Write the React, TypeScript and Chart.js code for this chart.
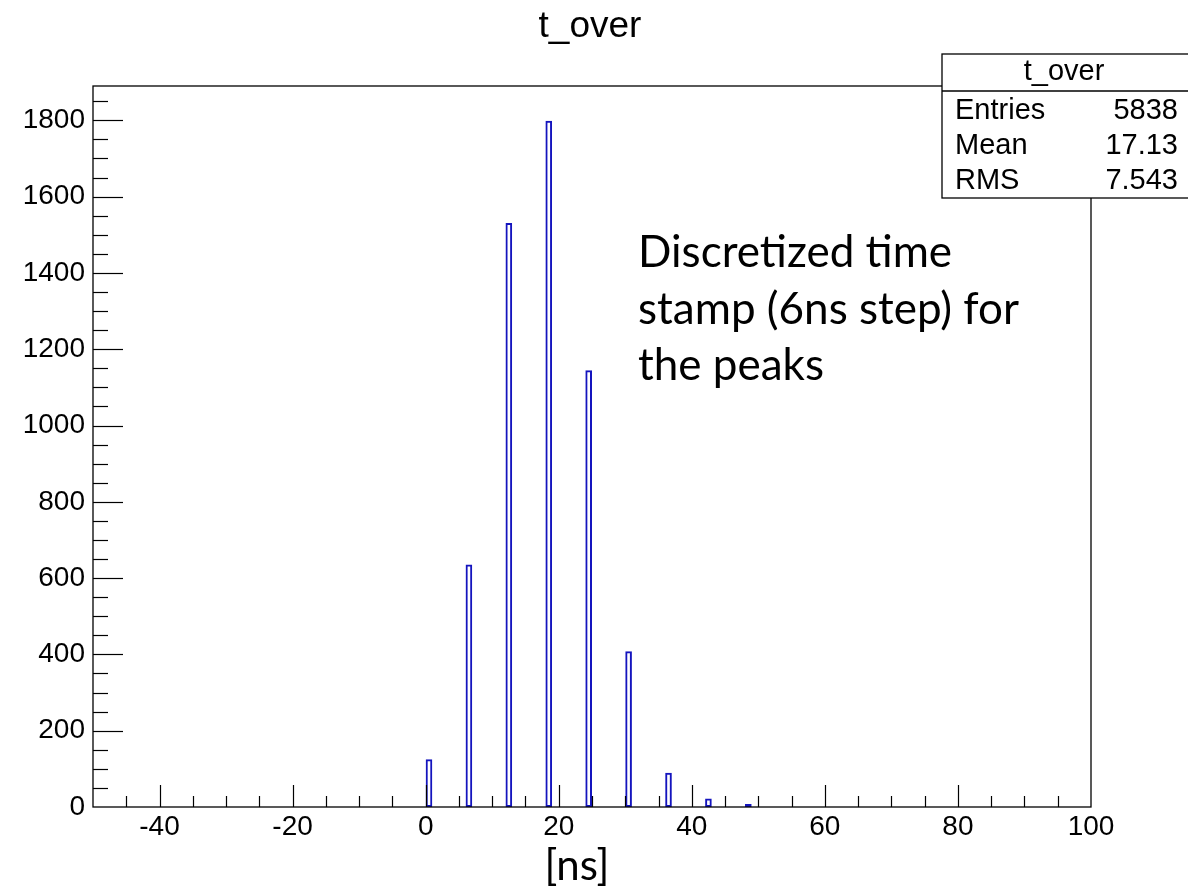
import React, { useEffect, useRef } from 'react';
import { Chart, registerables } from 'chart.js';

Chart.register(...registerables);

const histTitle = 't_over';
const binCenters = [0.5, 6.5, 12.5, 18.5, 24.5, 30.5, 36.5, 42.5, 48.5];
const binCounts = [125, 636, 1531, 1799, 1145, 408, 90, 22, 8];
const xRange = [-50, 100];
const yRange = [0, 1890];
const xMajorTicks = [-40, -20, 0, 20, 40, 60, 80, 100];
const yMajorTicks = [0, 200, 400, 600, 800, 1000, 1200, 1400, 1600, 1800];
const xMinorStep = 5;
const yMinorStep = 50;
const statLabels = ['Entries', 'Mean', 'RMS'];
const statValues = ['5838', '17.13', '7.543'];
const xUnitLabel = '[ns]';
const noteLines = ['Discretized time', 'stamp (6ns step) for', 'the peaks'];

const ROOT_FONT = "'Liberation Sans', Arial, Helvetica, sans-serif";
const NOTE_FONT = "Lato, 'Open Sans', sans-serif";

const rootFramePlugin = {
  id: 'rootFrame',
  afterDraw(chart: any) {
    const { ctx, chartArea, scales } = chart;
    const { left, right, top, bottom } = chartArea;
    const xs = scales.x;
    const ys = scales.y;
    ctx.save();
    // title
    ctx.fillStyle = '#000';
    ctx.font = `37px ${ROOT_FONT}`;
    ctx.textAlign = 'center';
    ctx.textBaseline = 'alphabetic';
    ctx.fillText(histTitle, 590, 37);

    ctx.strokeStyle = '#000';
    ctx.lineWidth = 1.3;
    ctx.strokeRect(left, top, right - left, bottom - top);
    ctx.lineWidth = 1.2;
    // x ticks (inward)
    for (let v = xRange[0] + xMinorStep; v < xRange[1]; v += xMinorStep) {
      const px = Math.round(xs.getPixelForValue(v)) + 0.5;
      const len = v % 20 === 0 ? 22 : 11;
      ctx.beginPath();
      ctx.moveTo(px, bottom);
      ctx.lineTo(px, bottom - len);
      ctx.stroke();
    }
    // y ticks (inward)
    for (let v = yRange[0] + yMinorStep; v < yRange[1]; v += yMinorStep) {
      const py = Math.round(ys.getPixelForValue(v)) + 0.5;
      const len = v % 200 === 0 ? 30 : 15;
      ctx.beginPath();
      ctx.moveTo(left, py);
      ctx.lineTo(left + len, py);
      ctx.stroke();
    }
    // stat box
    const bx = 942;
    const by = 54;
    const bw = 260;
    const bh = 144;
    ctx.fillStyle = '#fff';
    ctx.fillRect(bx, by, bw, bh);
    ctx.lineWidth = 1.3;
    ctx.strokeRect(bx, by, bw, bh);
    ctx.beginPath();
    ctx.moveTo(bx, 91);
    ctx.lineTo(bx + bw, 91);
    ctx.stroke();
    ctx.fillStyle = '#000';
    ctx.font = `29px ${ROOT_FONT}`;
    ctx.textBaseline = 'middle';
    ctx.textAlign = 'center';
    ctx.fillText(histTitle, 1064, 72);
    const rowY = [111, 146, 181];
    statLabels.forEach((lab, i) => {
      ctx.textAlign = 'left';
      ctx.fillText(lab, 955, rowY[i]);
      ctx.textAlign = 'right';
      ctx.fillText(statValues[i], 1178, rowY[i]);
    });
    ctx.restore();
  },
};

export default function App() {
  const canvasRef = useRef<HTMLCanvasElement | null>(null);

  useEffect(() => {
    document.body.style.margin = '0';
    const canvas = canvasRef.current;
    if (!canvas) return;
    const chart = new Chart(canvas, {
      type: 'bar',
      data: {
        datasets: [
          {
            label: histTitle,
            data: binCenters.map((c, i) => ({ x: c, y: binCounts[i] })),
            backgroundColor: 'rgba(255,255,255,0)',
            borderColor: 'rgb(20,20,190)',
            borderWidth: 2,
            borderSkipped: false,
            barPercentage: 1 / 6,
            categoryPercentage: 1,
          },
        ],
      },
      options: {
        animation: false,
        responsive: false,
        maintainAspectRatio: false,
        layout: { padding: { left: 0, right: 97, top: 86, bottom: 0 } },
        plugins: {
          legend: { display: false },
          tooltip: { enabled: false },
          title: { display: false },
        },
        scales: {
          x: {
            type: 'linear',
            min: xRange[0],
            max: xRange[1],
            offset: false,
            grid: { display: false, drawTicks: false },
            border: { display: false },
            ticks: {
              color: '#000',
              font: { family: ROOT_FONT, size: 28 },
              padding: 3,
              autoSkip: false,
              maxRotation: 0,
              callback: (v: any) => String(v),
            },
            afterBuildTicks: (s: any) => {
              s.ticks = xMajorTicks.map((v) => ({ value: v }));
            },
            afterFit: (s: any) => {
              s.height = 86;
            },
          },
          y: {
            type: 'linear',
            min: yRange[0],
            max: yRange[1],
            grid: { display: false, drawTicks: false },
            border: { display: false },
            ticks: {
              color: '#000',
              font: { family: ROOT_FONT, size: 28 },
              padding: 8,
              autoSkip: false,
              callback: (v: any) => String(v),
            },
            afterBuildTicks: (s: any) => {
              s.ticks = yMajorTicks.map((v) => ({ value: v }));
            },
            afterFit: (s: any) => {
              s.width = 93;
            },
          },
        },
      },
      plugins: [rootFramePlugin],
    });
    return () => chart.destroy();
  }, []);

  return (
    <div
      style={{
        position: 'fixed',
        left: 0,
        top: 0,
        width: 1188,
        height: 893,
        background: '#fff',
        overflow: 'hidden',
      }}
    >
      <canvas ref={canvasRef} width={1188} height={893} style={{ display: 'block' }} />
      <div
        style={{
          position: 'absolute',
          left: 638,
          top: 222,
          fontFamily: NOTE_FONT,
          fontSize: 44,
          lineHeight: '56.5px',
          color: '#000',
          whiteSpace: 'nowrap',
        }}
      >
        {noteLines.map((l, i) => (
          <div key={i}>{l}</div>
        ))}
      </div>
      <div
        style={{
          position: 'absolute',
          left: 577,
          top: 838,
          transform: 'translateX(-50%)',
          fontFamily: NOTE_FONT,
          fontSize: 42,
          lineHeight: '52px',
          color: '#000',
          whiteSpace: 'nowrap',
        }}
      >
        {xUnitLabel}
      </div>
    </div>
  );
}
